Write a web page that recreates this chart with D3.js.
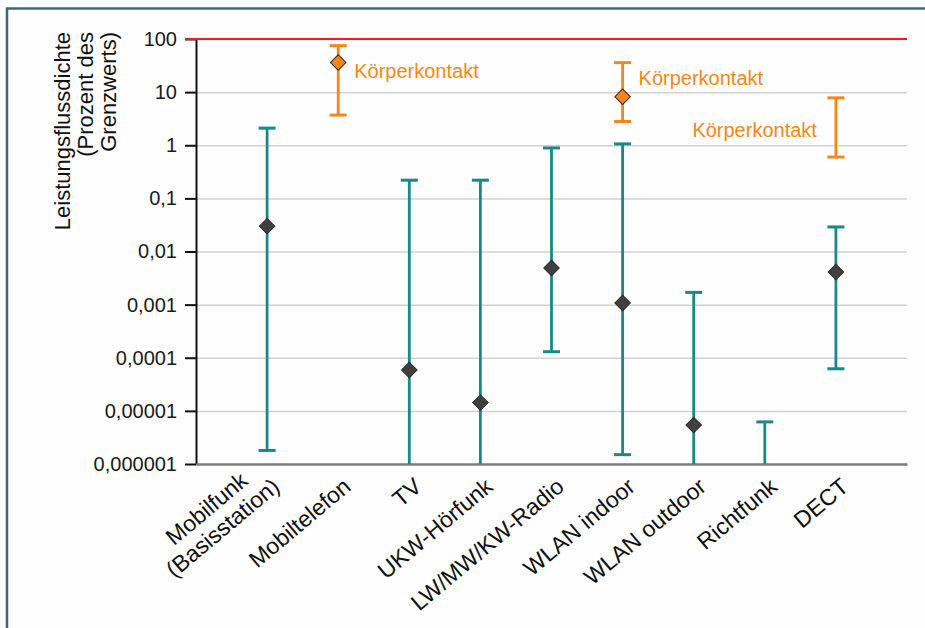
<!DOCTYPE html>
<html>
<head>
<meta charset="utf-8">
<script src="https://cdn.jsdelivr.net/npm/d3@7/dist/d3.min.js"></script>
<style>
  body { margin: 0; background: #fff; }
  svg text { font-family: "Liberation Sans", Arial, sans-serif; }
</style>
</head>
<body>
<div id="main"></div>
<script>
// categories along the x axis ("\n" = line break in the label)
var categories = ['Mobilfunk\n(Basisstation)', 'Mobiltelefon', 'TV', 'UKW-Hörfunk', 'LW/MW/KW-Radio',
    'WLAN indoor', 'WLAN outdoor', 'Richtfunk', 'DECT'];

var yTicks = [100, 10, 1, 0.1, 0.01, 0.001, 0.0001, 0.00001, 0.000001];
var yTickLabels = ['100', '10', '1', '0,1', '0,01', '0,001', '0,0001', '0,00001', '0,000001'];

// teal series (typical exposure), % of limit value
// high null = no bar, low null = range runs below the axis minimum
var farHigh = [2.1, null, 0.22, 0.22, 0.89, 1.06, 0.0017, 0.0000062, 0.029];
var farLow = [0.0000018, null, null, null, 0.00013, 0.0000015, null, null, 0.000062];
var farMid = [0.03, null, 0.000059, 0.0000143, 0.0049, 0.00107, 0.0000054, null, 0.0041];

// orange series (body contact)
var contactHigh = [null, 75, null, null, null, 36, null, null, 7.8];
var contactLow = [null, 3.7, null, null, null, 2.8, null, null, 0.6];
var contactMid = [null, 36, null, null, null, 8.2, null, null, null];
var contactLabel = 'Körperkontakt';
var contactLabelAt = [null, 18.5, null, null, null, 13.7, null, null, 1.4];
var contactLabelSide = [null, 'right', null, null, null, 'right', null, null, 'left'];

var limitValue = 100;
var yTitle = ['Leistungsflussdichte', '(Prozent des', 'Grenzwerts)'];

var W = 925, H = 628;
var plotLeft = 196, plotRight = 907, plotTop = 39, plotBottom = 464;
var teal = '#168a8b', orange = '#fb8616';

var svg = d3.select('#main').append('svg')
    .attr('width', W).attr('height', H);

svg.append('rect').attr('width', W).attr('height', H).attr('fill', '#fefefe');

// frame (left + top edge visible)
svg.append('path')
    .attr('d', 'M7,' + H + 'V8.5H' + W)
    .attr('fill', 'none').attr('stroke', '#3f6882').attr('stroke-width', 2.5);

var x = d3.scalePoint().domain(categories).range([plotLeft, plotRight]).padding(1);
var y = d3.scaleLog().domain([0.000001, 100]).range([plotBottom, plotTop]);

// grid
var grid = svg.append('g').attr('transform', 'translate(' + plotLeft + ',0)')
    .call(d3.axisLeft(y).tickValues(yTicks).tickSize(-(plotRight - plotLeft)).tickFormat(''));
grid.select('.domain').remove();
grid.selectAll('line').attr('stroke', '#d2d2d2').attr('stroke-width', 1.5);

// y axis
var yAxis = svg.append('g').attr('transform', 'translate(' + plotLeft + ',0)')
    .call(d3.axisLeft(y).tickValues(yTicks)
        .tickFormat(function(d, i) { return yTickLabels[i]; })
        .tickSize(11).tickSizeOuter(0).tickPadding(8));
yAxis.select('.domain').attr('stroke', '#111').attr('stroke-width', 2);
yAxis.selectAll('.tick line').attr('stroke', '#111').attr('stroke-width', 2);
yAxis.selectAll('.tick text').attr('font-size', '20px').attr('fill', '#1a1a1a')
    .attr('font-family', '"Liberation Sans", Arial, sans-serif');

// x axis line
var xAxis = svg.append('g').attr('transform', 'translate(0,' + plotBottom + ')')
    .call(d3.axisBottom(x).tickSize(0).tickSizeOuter(0).tickFormat(''));
xAxis.select('.domain').attr('stroke', '#7f7f7f').attr('stroke-width', 2.5);

// limit line (100 %)
svg.append('line')
    .attr('x1', plotLeft - 11).attr('x2', plotRight)
    .attr('y1', y(limitValue)).attr('y2', y(limitValue))
    .attr('stroke', '#ee1c1c').attr('stroke-width', 2.2);

// y title
var yt = svg.append('text')
    .attr('transform', 'translate(0,32) rotate(-90)')
    .attr('text-anchor', 'end').attr('font-size', '22px').attr('fill', '#111');
yTitle.forEach(function(t, i) {
    yt.append('tspan').attr('x', 0).attr('y', 70 + i * 23).text(t);
});

// x labels, rotated, lines centred on each other
categories.forEach(function(c) {
    var lines = c.split('\n');
    var g = svg.append('g')
        .attr('transform', 'translate(' + (x(c) + 14) + ',' + (plotBottom + 25) + ') rotate(-40)');
    var texts = lines.map(function(l, i) {
        return g.append('text').attr('text-anchor', 'end')
            .attr('y', -(lines.length - 1 - i) * 25)
            .attr('font-size', '23px').attr('fill', '#111').text(l);
    });
    var widths = texts.map(function(t) { return t.node().getComputedTextLength(); });
    var maxW = d3.max(widths);
    texts.forEach(function(t, i) { t.attr('x', -(maxW - widths[i]) / 2); });
});

var capW = 17;
var diamond = d3.symbol().type(d3.symbolSquare).size(120);

function rangeBars(high, low, color) {
    var g = svg.append('g');
    categories.forEach(function(c, i) {
        if (high[i] == null) return;
        var cx = x(c);
        var y1 = y(high[i]);
        var y2 = low[i] == null ? plotBottom : y(low[i]);
        g.append('line').attr('x1', cx).attr('x2', cx).attr('y1', y1).attr('y2', y2)
            .attr('stroke', color).attr('stroke-width', 2.8);
        g.append('line').attr('x1', cx - capW / 2).attr('x2', cx + capW / 2)
            .attr('y1', y1).attr('y2', y1)
            .attr('stroke', color).attr('stroke-width', 3);
        if (low[i] != null) {
            g.append('line').attr('x1', cx - capW / 2).attr('x2', cx + capW / 2)
                .attr('y1', y2).attr('y2', y2)
                .attr('stroke', color).attr('stroke-width', 3);
        }
    });
    return g;
}

rangeBars(farHigh, farLow, teal);
rangeBars(contactHigh, contactLow, orange);

function diamonds(mid, fill) {
    categories.forEach(function(c, i) {
        if (mid[i] == null) return;
        svg.append('path').attr('d', diamond)
            .attr('transform', 'translate(' + x(c) + ',' + y(mid[i]) + ') rotate(45)')
            .attr('fill', fill).attr('stroke', '#2a2a2a').attr('stroke-width', 1);
    });
}
diamonds(farMid, '#404040');
diamonds(contactMid, orange);

// annotations
categories.forEach(function(c, i) {
    if (contactLabelAt[i] == null) return;
    var isRight = contactLabelSide[i] == 'right';
    svg.append('text')
        .attr('x', isRight ? x(c) + 16 : x(c) - 19)
        .attr('y', y(contactLabelAt[i]))
        .attr('text-anchor', isRight ? 'start' : 'end')
        .attr('font-size', '20px').attr('fill', orange)
        .text(contactLabel);
});
</script>
</body>
</html>
